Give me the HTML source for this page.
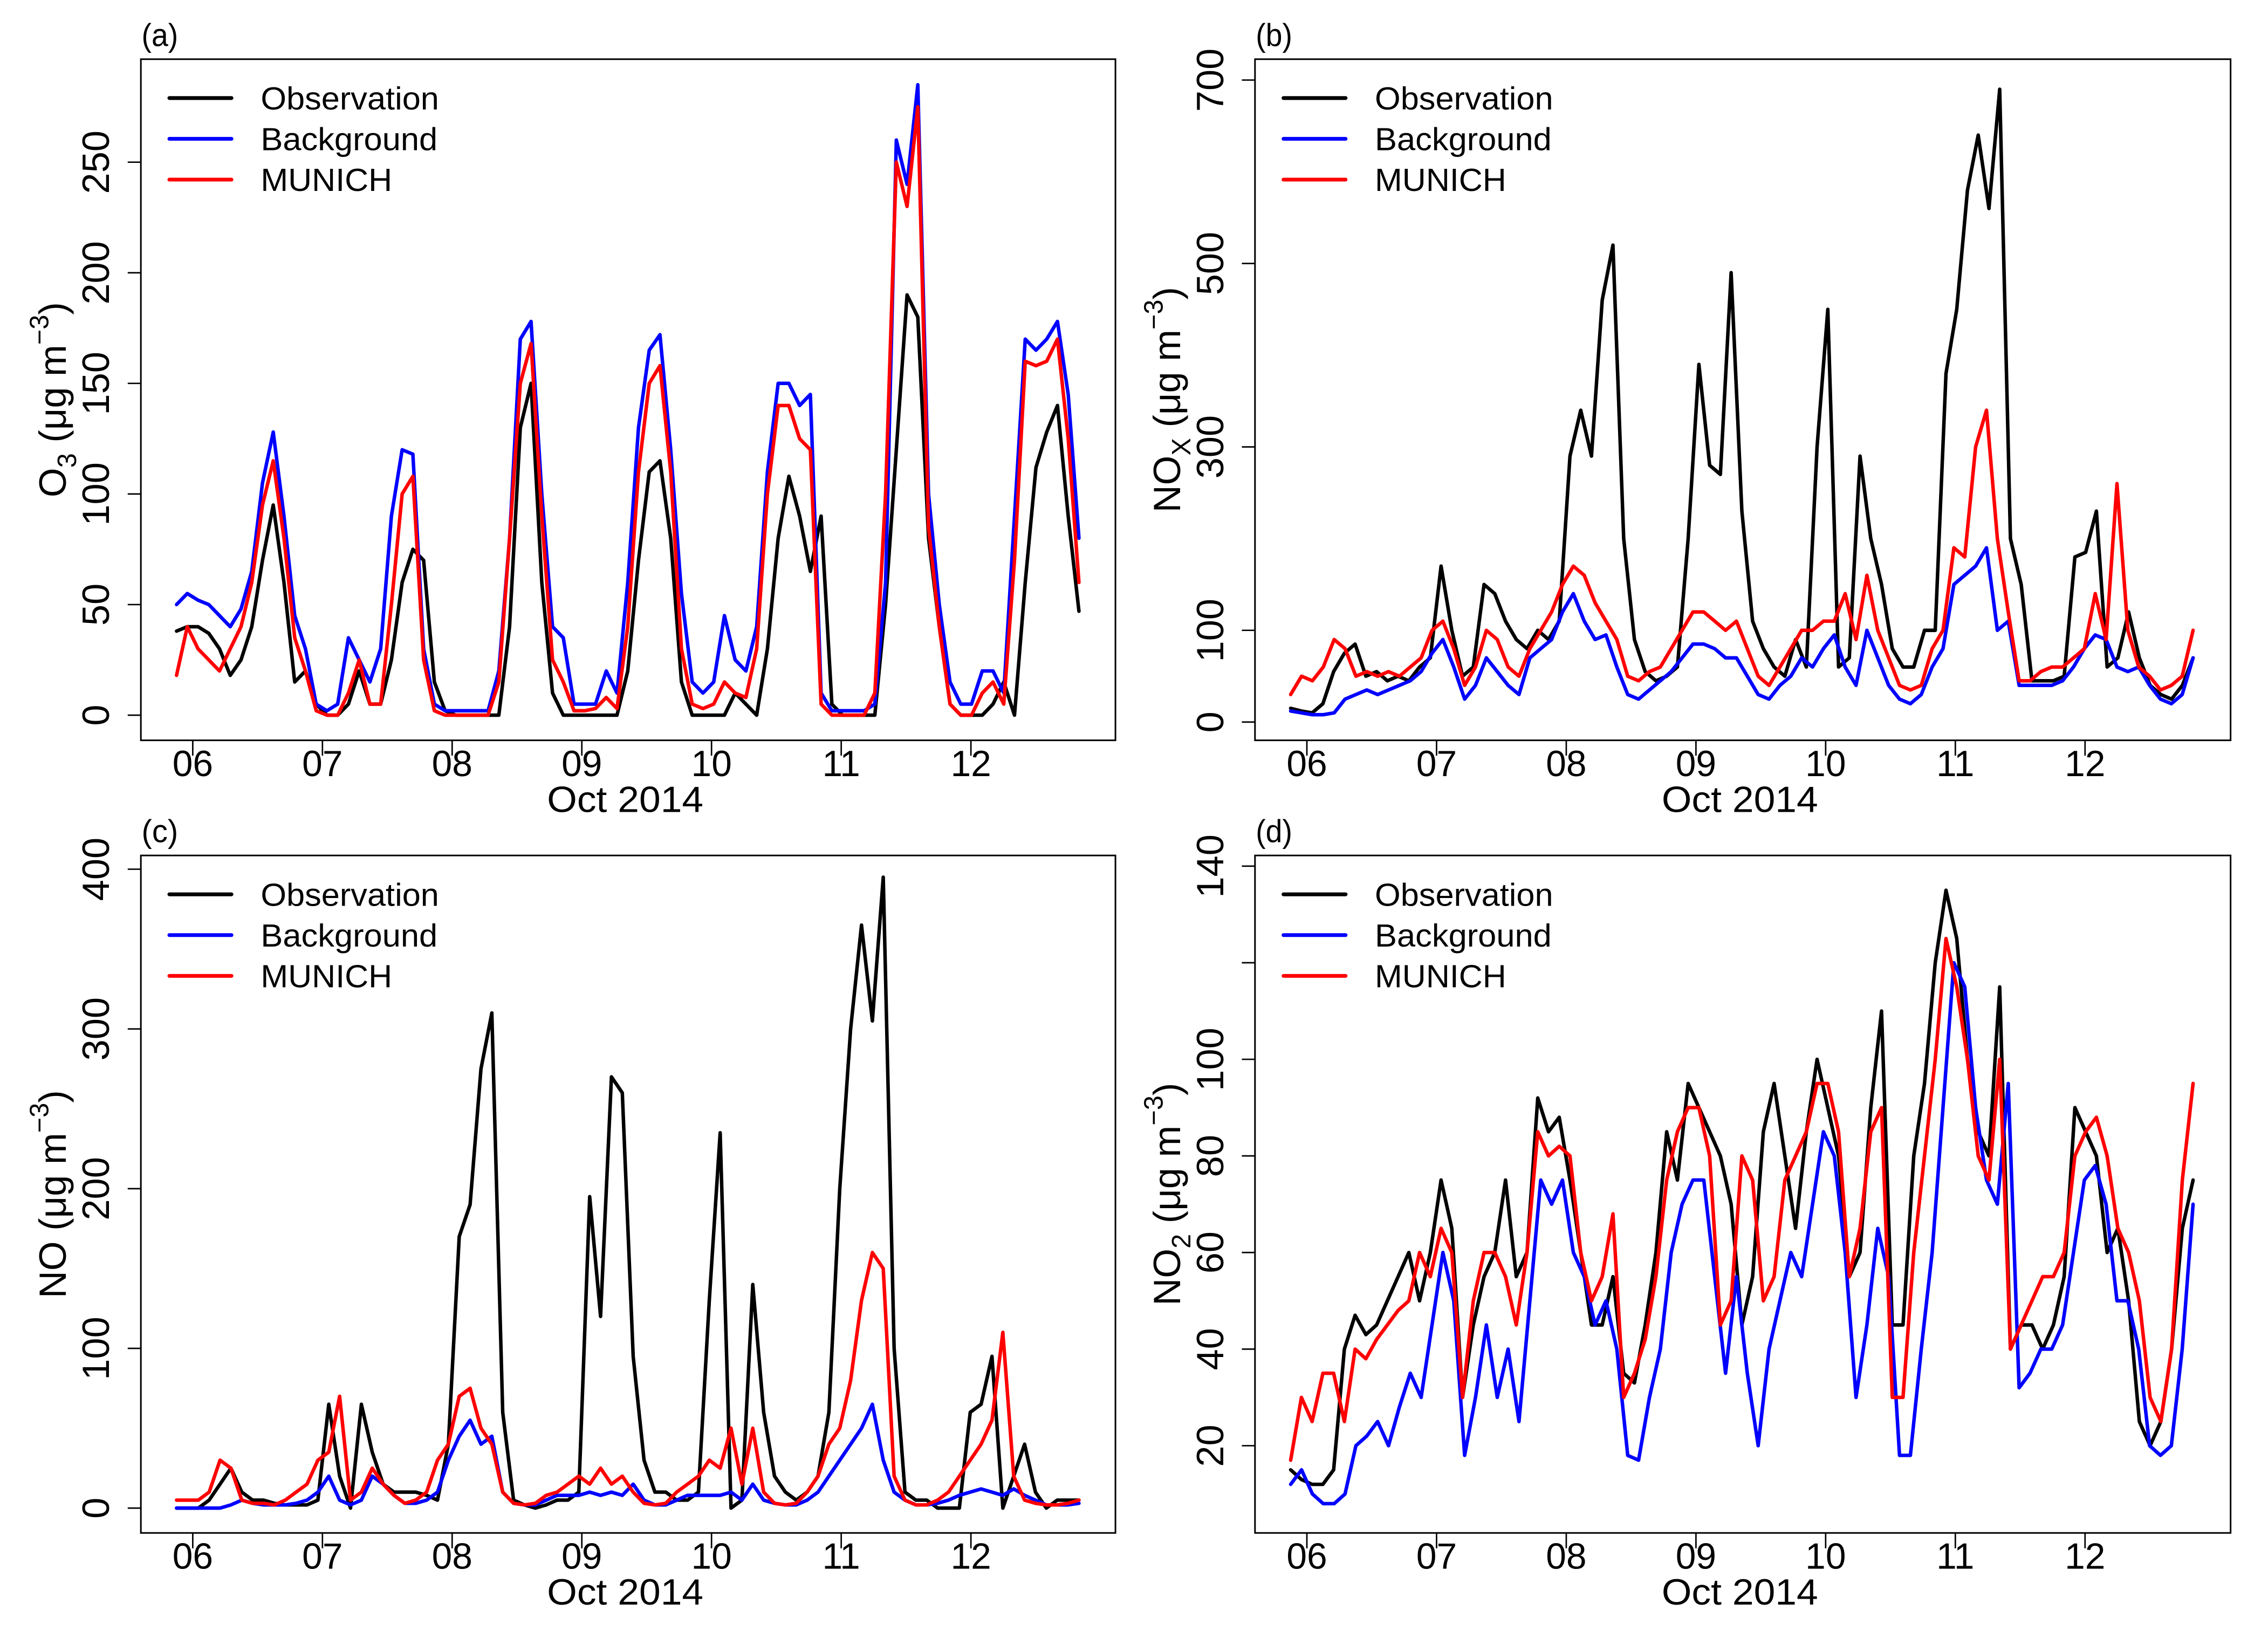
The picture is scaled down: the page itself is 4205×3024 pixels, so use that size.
<!DOCTYPE html>
<html><head><meta charset="utf-8"><style>
html,body{margin:0;padding:0;background:#fff;}
svg{display:block;}
text{font-family:"Liberation Sans",Arial,sans-serif;fill:#000;}
</style></head>
<body>
<svg id="fig" width="4205" height="3024" viewBox="0 0 1552 1116.1" preserveAspectRatio="none" xmlns="http://www.w3.org/2000/svg">
<rect x="0" y="0" width="1552" height="1116.1" fill="#fff"/>
</svg>
<script>
// ---------- DATA (2-hourly values, 21:00 Oct 05 to ~20:00 Oct 12) ----------
const dayLabels = ["06","07","08","09","10","11","12"];
const seriesNames = ["Observation","Background","MUNICH"];

const o3Obs = [38,40, 40,37,30,18,25,40,70,95,60,15,20,5, 0,0,5,20,5,5,25,60,75,70,15,2, 0,0,0,0,0,40,130,150,60,10,0,0, 0,0,0,0,20,70,110,115,80,15,0,0, 0,0,10,5,0,30,80,108,90,65,90,5, 0,0,0,0,50,120,190,180,80,40,5,0, 0,0,5,15,0,60,112,128,140,90,47];
const o3Bg = [50,55, 52,50,45,40,48,65,105,128,90,45,30,5, 2,5,35,25,15,30,90,120,118,30,5,2, 2,2,2,2,20,80,170,178,100,40,35,5, 5,5,20,10,60,130,165,172,120,55,15,10, 15,45,25,20,40,110,150,150,140,145,10,2, 2,2,2,5,60,260,240,285,100,50,15,5, 5,20,20,10,90,170,165,170,178,145,80];
const o3Munich = [18,40, 30,25,20,30,40,60,95,115,80,35,20,2, 0,0,10,25,5,5,50,100,108,25,2,0, 0,0,0,0,15,80,150,168,90,25,15,2, 2,3,8,3,40,110,150,158,110,30,5,3, 5,15,10,8,30,100,140,140,125,120,5,0, 0,0,0,10,100,250,230,275,85,40,5,0, 0,10,15,5,70,160,158,160,170,125,60];

const noxObs = [15,12, 10,20,55,75,85,50,55,45,50,45,60,70, 170,100,50,60,150,140,110,90,80,100,90,110, 290,340,290,460,520,200,90,55,45,50,60,200, 390,280,270,490,230,110,80,60,50,90,60,300, 450,60,70,290,200,150,80,60,60,100,100,380, 450,580,640,560,690,200,150,45,45,45,50,180, 185,230,60,70,120,70,40,30,25,40,70];
const noxBg = [12,10, 8,8,10,25,30,35,30,35,40,45,55,75, 90,60,25,40,70,55,40,30,70,80,90,120, 140,110,90,95,60,30,25,35,45,55,70,85, 85,80,70,70,50,30,25,40,50,70,60,80, 95,60,40,100,70,40,25,20,30,60,80,150, 160,170,190,100,110,40,40,40,40,45,60,80, 95,90,60,55,60,40,25,20,30,70];
const noxMunich = [30,50, 45,60,90,80,50,55,50,55,50,60,70,100, 110,80,40,60,100,90,60,50,80,100,120,150, 170,160,130,110,90,50,45,55,60,80,100,120, 120,110,100,110,80,50,40,60,80,100,100,110, 110,140,90,160,100,70,40,35,40,80,100,190, 180,300,340,200,120,45,45,55,60,60,70,80, 140,90,260,100,60,50,35,40,50,100];

const noObs = [0,0, 0,5,15,25,10,5,5,3,2,2,2,5, 65,20,0,65,35,15,10,10,10,8,5,40, 170,190,275,310,60,5,2,0,2,5,5,10, 195,120,270,260,95,30,10,10,5,5,10,130, 235,0,5,140,60,20,10,5,10,20,60,200, 300,365,305,395,100,10,5,5,0,0,0,60, 65,95,0,20,40,10,0,5,5,5];
const noBg = [0,0, 0,0,0,2,5,3,2,2,2,3,5,10, 20,5,2,5,20,15,8,3,3,5,10,30, 45,55,40,45,10,3,2,2,5,8,8,8, 10,8,10,8,15,5,2,2,5,8,8,8, 8,10,5,15,5,3,2,2,5,10,20,30, 40,50,65,30,10,5,2,2,3,5,8,10, 12,10,8,12,8,5,2,2,2,3];
const noMunich = [5,5, 5,10,30,25,5,3,3,2,5,10,15,30, 35,70,5,10,25,15,8,3,5,10,30,40, 70,75,50,40,10,3,2,3,8,10,15,20, 15,25,15,20,10,3,2,3,10,15,20,30, 25,50,15,50,10,3,2,3,10,20,40,50, 80,130,160,150,20,5,2,2,5,10,20,30, 40,55,110,20,5,3,2,2,3,5];

const no2Obs = [15,13, 12,12,15,40,47,43,45,50,55,60,50,60, 75,65,30,45,55,60,75,55,60,92,85,88, 75,60,45,45,55,35,33,45,60,85,75,95, 90,85,80,70,45,55,85,95,80,65,85,100, 90,80,55,60,90,110,45,45,80,95,120,135, 125,100,85,80,115,40,45,45,40,45,55,90, 85,80,60,65,50,25,20,25,40,65,75];
const no2Bg = [12,15, 10,8,8,10,20,22,25,20,28,35,30,45, 60,50,18,30,45,30,40,25,50,75,70,75, 60,55,45,50,40,18,17,30,40,60,70,75, 75,55,35,55,35,20,40,50,60,55,70,85, 80,60,30,45,65,55,18,18,40,60,90,120, 115,90,75,70,95,32,35,40,40,45,60,75, 78,70,50,50,40,20,18,20,40,70];
const no2Munich = [17,30, 25,35,35,25,40,38,42,45,48,50,60,55, 65,60,30,50,60,60,55,45,60,85,80,82, 80,60,50,55,68,30,35,42,55,75,85,90, 90,80,45,50,80,75,50,55,75,80,85,95, 95,85,55,65,85,90,30,30,60,80,100,125, 115,100,80,75,100,40,45,50,55,55,60,80, 85,88,80,65,60,50,30,25,40,75,95];

const ticksA = [0,50,100,150,200,250];
const ticksB = [0,100,300,500,700];
const ticksC = [0,100,200,300,400];
const ticksD = [20,40,60,80,100,120,140];
const labelsD = ["20","40","60","80","100","","140"];

// ---------- LAYOUT ----------
const NS = "http://www.w3.org/2000/svg";
const svg = document.getElementById("fig");
const T0 = -0.125, T1 = 6.833;
const colors = ["#000000","#0000ff","#ff0000"];

const panels = [
  {id:"a", left:96.4, right:763.3, top:40.5, bottom:506.6, v0:0, y0:489.4, k:1.5137,
   ticks:ticksA, labels:null, series:[o3Obs,o3Bg,o3Munich], ylab:[["O",0],["3",1],[" (μg m",0],["−3",2],[")",0]]},
  {id:"b", left:858.8, right:1526.4, top:40.5, bottom:506.6, v0:0, y0:494.1, k:0.6276,
   ticks:ticksB, labels:null, series:[noxObs,noxBg,noxMunich], ylab:[["NO",0],["X",1],[" (μg m",0],["−3",2],[")",0]]},
  {id:"c", left:96.4, right:763.3, top:585.4, bottom:1049, v0:0, y0:1032, k:1.093,
   ticks:ticksC, labels:null, series:[noObs,noBg,noMunich], ylab:[["NO (μg m",0],["−3",2],[")",0]]},
  {id:"d", left:858.8, right:1526.4, top:585.4, bottom:1049, v0:20, y0:989.3, k:3.305,
   ticks:ticksD, labels:labelsD, series:[no2Obs,no2Bg,no2Munich], ylab:[["NO",0],["2",1],[" (μg m",0],["−3",2],[")",0]]}
];

function mk(tag, attrs, parent){
  const e = document.createElementNS(NS, tag);
  for (const k in attrs) e.setAttribute(k, attrs[k]);
  (parent||svg).appendChild(e);
  return e;
}

panels.forEach(p => {
  const g = mk("g", {});
  
  
  const dayW = 88.75;
  const x06 = p.left + 35.5;
  const xs = t => x06 + t*dayW;
  const ys = v => p.y0 - (v - p.v0)*p.k;

  p.series.forEach((arr, si) => {
    const n = arr.length;
    let d = "";
    arr.forEach((v,i) => {
      const t = T0 + (T1 - T0)*i/(n-1);
      d += (i ? "L" : "M") + xs(t).toFixed(2) + "," + ys(v).toFixed(2);
    });
    const path = mk("path", {d:d, fill:"none", stroke:colors[si], "stroke-width":"2.4", "stroke-linejoin":"round", "stroke-linecap":"round"}, g);
    
    
  });

  const box = mk("rect", {x:p.left, y:p.top, width:p.right-p.left, height:p.bottom-p.top, fill:"none", stroke:"#000", "stroke-width":"1.1"}, g);
  
  

  const xa = mk("g", {}, g);
  
  
  dayLabels.forEach((lab, i) => {
    const x = xs(i);
    mk("line", {x1:x, x2:x, y1:p.bottom, y2:p.bottom+10.5, stroke:"#000", "stroke-width":"1"}, xa);
    const t = mk("text", {x:x, y:p.bottom+24.5, "text-anchor":"middle", "font-size":"25"}, xa);
    t.textContent = lab;
    
    
  });
  const xt = mk("text", {x:(p.left+p.right)/2 - 2, y:p.bottom+49, "text-anchor":"middle", "font-size":"25", "data-w":"107"}, g);
  xt.textContent = "Oct 2014";
  
  

  const ya = mk("g", {}, g);
  
  
  p.ticks.forEach((v, i) => {
    const y = ys(v);
    mk("line", {x1:p.left-9, x2:p.left, y1:y, y2:y, stroke:"#000", "stroke-width":"1"}, ya);
    const lab = p.labels ? p.labels[i] : String(v);
    if (lab) {
      const t = mk("text", {x:0, y:0, "text-anchor":"middle", "font-size":"26", transform:"translate(" + (p.left-21.8) + "," + y + ") rotate(-90)"}, ya);
      t.textContent = lab;
      
      
    }
  });
  const yl = mk("text", {x:0, y:0, "text-anchor":"middle", "font-size":"26", transform:"translate(" + (p.left-51.3) + "," + ((p.top+p.bottom)/2) + ") rotate(-90)"}, g);
  
  
  let prev = 0;
  p.ylab.forEach(([s, kind]) => {
    const ts = mk("tspan", {}, yl);
    let fs = 26;
    const target = kind===1 ? 7 : (kind===2 ? -12 : 0);
    const dy = target - prev; prev = target;
    if (kind) fs = 18;
    ts.setAttribute("dy", dy);
    ts.setAttribute("font-size", fs);
    ts.textContent = s;
  });

  const pl = mk("text", {x:p.left+0.5, y:p.top-9, "font-size":"22", "data-w":"25"}, g);
  pl.textContent = "(" + p.id + ")";
  
  

  const lg = mk("g", {}, g);
  
  
  const widths = [122, 121, 90];
  seriesNames.forEach((nm, si) => {
    const y = p.top + 26.6 + si*27.9;
    const entry = mk("g", {}, lg);
    
    
    mk("line", {x1:p.left+19.5, x2:p.left+62, y1:y, y2:y, stroke:colors[si], "stroke-width":"2.6", "stroke-linecap":"round"}, entry);
    const t = mk("text", {x:p.left+82, y:y+7.8, "font-size":"22", "data-w":widths[si]}, entry);
    t.textContent = nm;
  });
});

document.querySelectorAll("text[data-w]").forEach(t => {
  t.setAttribute("textLength", t.getAttribute("data-w"));
  t.setAttribute("lengthAdjust", "spacingAndGlyphs");
});
</script>
</body></html>
